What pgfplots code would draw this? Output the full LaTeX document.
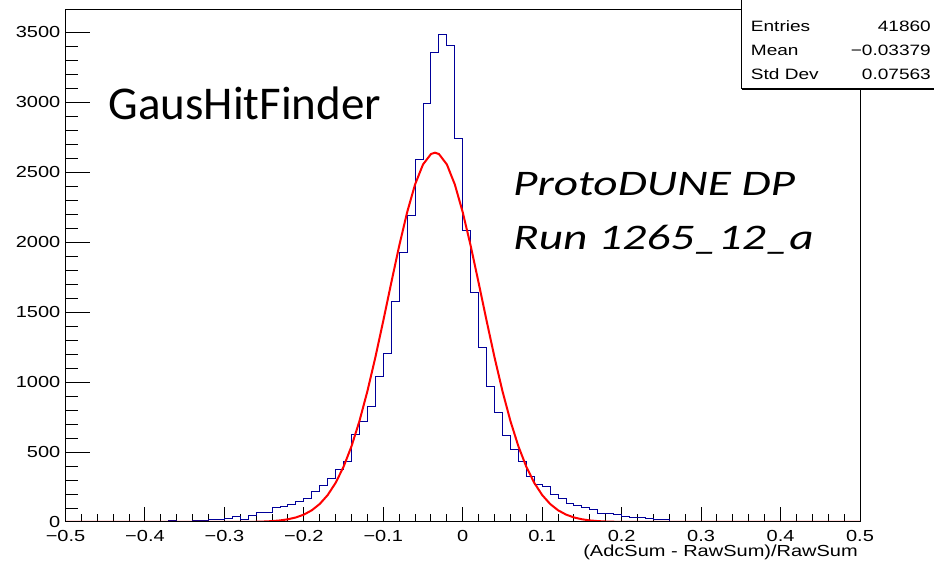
\documentclass[border=0pt]{standalone}
\usepackage{fontspec}
\setmainfont{Liberation Sans}
\newfontfamily\calibri{Carlito}
\usepackage{graphicx}
\usepackage{pgfplots}
\usepackage{pgfplotstable}
\pgfplotsset{compat=1.18}
\definecolor{rootblue}{RGB}{0,0,153}
\newcommand{\hs}[1]{\scalebox{1.25}[1]{#1}}
\pgfplotstableread{
x y
-0.50 0
-0.49 0
-0.48 0
-0.47 0
-0.46 0
-0.45 0
-0.44 0
-0.43 0
-0.42 0
-0.41 0
-0.40 0
-0.39 0
-0.38 0
-0.37 10
-0.36 3
-0.35 3
-0.34 10
-0.33 13
-0.32 19
-0.31 20
-0.30 27
-0.29 36
-0.28 20
-0.27 45
-0.26 65
-0.25 67
-0.24 103
-0.23 112
-0.22 126
-0.21 148
-0.20 167
-0.19 215
-0.18 258
-0.17 313
-0.16 372
-0.15 435
-0.14 626
-0.13 715
-0.12 829
-0.11 1039
-0.10 1207
-0.09 1573
-0.08 1923
-0.07 2193
-0.06 2589
-0.05 2990
-0.04 3355
-0.03 3485
-0.02 3407
-0.01 2744
0.00 2085
0.01 1644
0.02 1250
0.03 966
0.04 785
0.05 618
0.06 520
0.07 434
0.08 327
0.09 270
0.10 253
0.11 196
0.12 165
0.13 134
0.14 117
0.15 107
0.16 88
0.17 62
0.18 60
0.19 57
0.20 38
0.21 33
0.22 34
0.23 22
0.24 16
0.25 16
0.26 2
0.27 7
0.28 7
0.29 7
0.30 0
0.31 1
0.32 0
0.33 0
0.34 0
0.35 0
0.36 0
0.37 0
0.38 0
0.39 0
0.40 0
0.41 0
0.42 0
0.43 0
0.44 0
0.45 0
0.46 0
0.47 0
0.48 0
0.49 0
0.50 0
}\histdata
\pgfplotstableread{
x y
-0.50 0
-0.30 0.1
-0.28 0.5
-0.27 0.9
-0.26 1.8
-0.25 3.5
-0.24 6.3
-0.23 11.2
-0.22 19.4
-0.21 32.5
-0.20 52.9
-0.19 83.7
-0.18 128.8
-0.17 192.6
-0.16 279.9
-0.15 394.9
-0.14 541.8
-0.13 722.0
-0.12 935.1
-0.11 1176.9
-0.10 1439.1
-0.09 1709.7
-0.08 1973.7
-0.07 2213.9
-0.06 2413.2
-0.05 2556.0
-0.04 2630.5
-0.035 2640
-0.03 2630.5
-0.02 2556.0
-0.01 2413.2
0.00 2213.9
0.01 1973.7
0.02 1709.7
0.03 1439.1
0.04 1176.9
0.05 935.1
0.06 722.0
0.07 541.8
0.08 394.9
0.09 279.9
0.10 192.6
0.11 128.8
0.12 83.7
0.13 52.9
0.14 32.5
0.15 19.4
0.16 11.2
0.17 6.3
0.18 3.5
0.19 1.8
0.20 0.9
0.22 0.2
0.25 0
0.50 0
}\fitdata
\begin{document}
\begin{tikzpicture}[x=1pt,y=1pt]
\useasboundingbox (0,0) rectangle (934,569);
\pgfplotsset{rootaxis/.style={
  at={(65.5pt,47pt)}, anchor=south west,
  width=794.5pt, height=512pt, scale only axis,
  xmin=-0.5, xmax=0.5, ymin=0, ymax=3660,
  axis line style={black, line width=1pt},
  tick style={black, line width=1pt},
  tick align=inside,
  xtick pos=lower, ytick pos=left,
  clip=true,
}}
\begin{axis}[rootaxis,
  xtick={-0.5,-0.4,-0.3,-0.2,-0.1,0,0.1,0.2,0.3,0.4,0.5},
  xticklabels={\hs{−0.5},\hs{−0.4},\hs{−0.3},\hs{−0.2},\hs{−0.1},\hs{0},\hs{0.1},\hs{0.2},\hs{0.3},\hs{0.4},\hs{0.5}},
  minor x tick num=4,
  major tick length=15pt, minor tick length=7.5pt,
  ytick=\empty,
  xticklabel style={font=\fontsize{16}{19}\selectfont, anchor=north, inner sep=0pt, yshift=-8pt},
]
\addplot[const plot, rootblue, line width=1pt] table {\histdata};
\addplot[red, line width=2pt] table {\fitdata};
\end{axis}
\begin{axis}[rootaxis,
  xtick=\empty,
  ytick={0,500,1000,1500,2000,2500,3000,3500},
  yticklabels={\hs{0},\hs{500},\hs{1000},\hs{1500},\hs{2000},\hs{2500},\hs{3000},\hs{3500}},
  minor y tick num=4,
  major tick length=24pt, minor tick length=12pt,
  yticklabel style={font=\fontsize{16}{19}\selectfont, anchor=east, inner sep=0pt, xshift=-5pt},
]
\end{axis}
% stats box
\draw[black, line width=1pt, fill=white] (741.5,480) rectangle (945,580);
\draw[black, line width=2pt] (741.5,479.5) -- (945,479.5);
\begin{scope}[every node/.style={font=\fontsize{15}{18}\selectfont, inner sep=0pt}]
\node[anchor=base west] at (750.7,537.3) {\scalebox{1.27}[1]{Entries}};
\node[anchor=base east] at (931,537.3) {\scalebox{1.27}[1]{41860}};
\node[anchor=base west] at (750.7,513) {\scalebox{1.27}[1]{Mean}};
\node[anchor=base east] at (931,513) {\scalebox{1.27}[1]{−0.03379}};
\node[anchor=base west] at (750.7,489) {\scalebox{1.27}[1]{Std Dev}};
\node[anchor=base east] at (931,489) {\scalebox{1.27}[1]{0.07563}};
\end{scope}
% labels
\node[anchor=base east, inner sep=0pt, font=\fontsize{16}{19}\selectfont] at (858,12) {\hs{(AdcSum - RawSum)/RawSum}};
\node[anchor=base west, inner sep=0pt, font=\calibri\fontsize{47}{50}\selectfont] at (108.3,449) {GausHitFinder};
\node[anchor=base west, inner sep=0pt, font=\calibri\itshape\fontsize{36}{40}\selectfont] at (513,373.3) {\scalebox{1.315}[1]{ProtoDUNE DP}};
\node[anchor=base west, inner sep=0pt, font=\calibri\itshape\fontsize{36}{40}\selectfont] at (513,319) {\scalebox{1.315}[1]{Run 1265\_12\_a}};
\end{tikzpicture}
\end{document}
